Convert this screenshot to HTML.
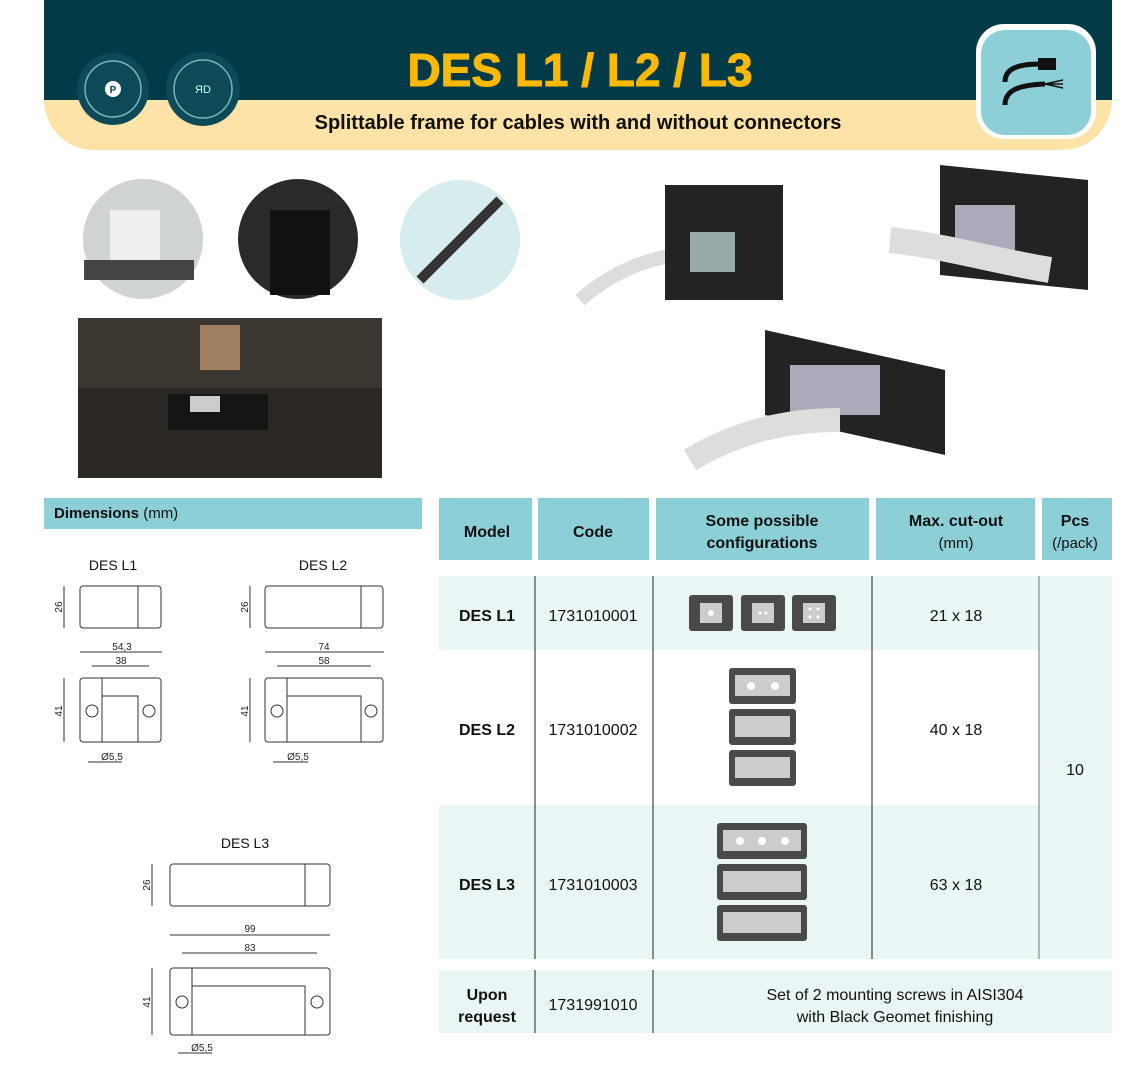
<!DOCTYPE html>
<html><head><meta charset="utf-8"><style>
body{margin:0;width:1148px;height:1087px;background:#fff;font-family:"Liberation Sans",sans-serif;overflow:hidden}
svg{position:absolute;left:0;top:0}
</style></head><body>
<svg width="1148" height="1087" viewBox="0 0 1148 1087" font-family="Liberation Sans, sans-serif">
<!-- header -->
<path d="M44 0H1112V100A50 50 0 0 1 1062 150H94A50 50 0 0 1 44 100Z" fill="#fde3a8"/>
<rect x="44" y="0" width="1068" height="100" fill="#033a48"/>
<circle cx="113" cy="89" r="36" fill="#0b4a56"/><circle cx="113" cy="89" r="28" fill="none" stroke="#7fb3bb" stroke-width="1.5"/>
<circle cx="113" cy="89" r="8" fill="#fff"/><text x="113" y="93" font-size="10" font-weight="bold" text-anchor="middle" fill="#033a48">P</text>
<circle cx="203" cy="89" r="37" fill="#0b4a56"/><circle cx="203" cy="89" r="29" fill="none" stroke="#7fb3bb" stroke-width="1.5"/>
<text x="203" y="93" font-size="11" text-anchor="middle" fill="#cfe">ЯD</text>
<text x="580" y="86" font-size="46" font-weight="bold" text-anchor="middle" fill="#fbb900" stroke="#fbb900" stroke-width="1">DES L1 / L2 / L3</text>
<text x="578" y="129" font-size="20" font-weight="bold" text-anchor="middle" fill="#111">Splittable frame for cables with and without connectors</text>
<rect x="976" y="24" width="120" height="115" rx="28" fill="#fff"/>
<rect x="981" y="30" width="110" height="105" rx="24" fill="#8ccfd6"/>
<path d="M1005 82C1005 70 1015 64 1040 64" stroke="#111" stroke-width="5" fill="none"/><rect x="1038" y="58" width="18" height="12" fill="#111"/>
<path d="M1005 105C1005 92 1015 85 1045 84" stroke="#111" stroke-width="5" fill="none"/><path d="M1045 84l18-4M1045 84l18 0M1045 84l18 4" stroke="#111" stroke-width="1.5"/>
<!-- photos -->
<circle cx="143" cy="239" r="60" fill="#cfd3d4"/><rect x="110" y="210" width="50" height="55" fill="#eee"/><rect x="84" y="260" width="110" height="20" fill="#444"/>
<circle cx="298" cy="239" r="60" fill="#2a2a2a"/><rect x="270" y="210" width="60" height="85" fill="#111"/>
<circle cx="460" cy="240" r="60" fill="#d6ecef"/><path d="M420 280L500 200" stroke="#333" stroke-width="10"/>
<rect x="78" y="318" width="304" height="160" fill="#2b2723"/><rect x="78" y="318" width="304" height="70" fill="#3b3630"/><rect x="200" y="325" width="40" height="45" fill="#a08060"/>
<rect x="168" y="394" width="100" height="36" fill="#151515"/><rect x="190" y="396" width="30" height="16" fill="#ccc"/>
<path d="M580 300C620 265 660 255 700 252" stroke="#ddd" stroke-width="14" fill="none"/>
<path d="M665 185H783V300H665Z" fill="#232323"/><rect x="690" y="232" width="45" height="40" fill="#9aa"/>
<path d="M940 165L1088 180V290L940 275Z" fill="#232323"/><rect x="955" y="205" width="60" height="50" fill="#aab"/><path d="M890 240C940 245 1000 262 1050 270" stroke="#ddd" stroke-width="26" fill="none"/>
<path d="M765 330L945 370V455L765 415Z" fill="#232323"/><rect x="790" y="365" width="90" height="50" fill="#aab"/><path d="M690 460C740 430 790 420 840 420" stroke="#ddd" stroke-width="24" fill="none"/>
<!-- dimensions -->
<rect x="44" y="498" width="378" height="31" fill="#8ccfd6"/>
<text x="54" y="518" font-size="15" fill="#111"><tspan font-weight="bold">Dimensions</tspan> (mm)</text>
<g font-size="14" fill="#111" text-anchor="middle"><text x="113" y="570">DES L1</text><text x="323" y="570">DES L2</text><text x="245" y="848">DES L3</text></g>
<g stroke="#333" stroke-width="1" fill="none">
<rect x="80" y="586" width="81" height="42" rx="3"/><line x1="64" y1="586" x2="64" y2="628"/><line x1="138" y1="586" x2="138" y2="628"/>
<rect x="80" y="678" width="81" height="64" rx="3"/><circle cx="92" cy="711" r="6"/><circle cx="149" cy="711" r="6"/><path d="M102 678V742M102 696H138V742"/>
<line x1="80" y1="652" x2="162" y2="652"/><line x1="92" y1="666" x2="149" y2="666"/><line x1="64" y1="678" x2="64" y2="742"/><line x1="88" y1="762" x2="122" y2="762"/>
<rect x="265" y="586" width="118" height="42" rx="3"/><line x1="250" y1="586" x2="250" y2="628"/><line x1="361" y1="586" x2="361" y2="628"/>
<rect x="265" y="678" width="118" height="64" rx="3"/><circle cx="277" cy="711" r="6"/><circle cx="371" cy="711" r="6"/><path d="M287 678V742M287 696H361V742"/>
<line x1="265" y1="652" x2="384" y2="652"/><line x1="277" y1="666" x2="371" y2="666"/><line x1="250" y1="678" x2="250" y2="742"/><line x1="273" y1="762" x2="308" y2="762"/>
<rect x="170" y="864" width="160" height="42" rx="3"/><line x1="152" y1="864" x2="152" y2="906"/><line x1="305" y1="864" x2="305" y2="906"/>
<rect x="170" y="968" width="160" height="67" rx="3"/><circle cx="182" cy="1002" r="6"/><circle cx="317" cy="1002" r="6"/><path d="M192 968V1035M192 986H305V1035"/>
<line x1="170" y1="935" x2="330" y2="935"/><line x1="182" y1="953" x2="317" y2="953"/><line x1="152" y1="968" x2="152" y2="1035"/><line x1="178" y1="1053" x2="212" y2="1053"/>
</g>
<g font-size="10" fill="#222" text-anchor="middle"><text x="122" y="650">54,3</text><text x="121" y="664">38</text><text x="324" y="650">74</text><text x="324" y="664">58</text><text x="250" y="932">99</text><text x="250" y="951">83</text>
<text x="112" y="760">Ø5,5</text><text x="298" y="760">Ø5,5</text><text x="202" y="1051">Ø5,5</text></g>
<g font-size="10" fill="#222" text-anchor="middle"><text transform="translate(62,607) rotate(-90)">26</text><text transform="translate(248,607) rotate(-90)">26</text><text transform="translate(150,885) rotate(-90)">26</text>
<text transform="translate(62,711) rotate(-90)">41</text><text transform="translate(248,711) rotate(-90)">41</text><text transform="translate(150,1002) rotate(-90)">41</text></g>
<!-- table -->
<g fill="#8ccfd6"><rect x="439" y="498" width="93" height="62"/><rect x="538" y="498" width="111" height="62"/><rect x="656" y="498" width="213" height="62"/><rect x="876" y="498" width="159" height="62"/><rect x="1042" y="498" width="70" height="62"/></g>
<g font-size="16" font-weight="bold" fill="#111" text-anchor="middle"><text x="487" y="537">Model</text><text x="593" y="537">Code</text><text x="762" y="526">Some possible</text><text x="762" y="548">configurations</text><text x="956" y="526">Max. cut-out</text><text x="1075" y="526">Pcs</text></g>
<g font-size="15" fill="#111" text-anchor="middle"><text x="956" y="548">(mm)</text><text x="1075" y="548">(/pack)</text></g>
<rect x="439" y="576" width="673" height="383" fill="#eaf5f6"/><rect x="439" y="650" width="600" height="155" fill="#fff"/>
<rect x="439" y="970" width="673" height="63" fill="#eaf5f6"/>
<g stroke="#222" stroke-width="1"><line x1="535" y1="576" x2="535" y2="959"/><line x1="653" y1="576" x2="653" y2="959"/><line x1="872" y1="576" x2="872" y2="959"/><line x1="1039" y1="576" x2="1039" y2="959" stroke="#777"/>
<line x1="535" y1="970" x2="535" y2="1033"/><line x1="653" y1="970" x2="653" y2="1033"/></g>
<g font-size="16" font-weight="bold" fill="#111" text-anchor="middle"><text x="487" y="621">DES L1</text><text x="487" y="735">DES L2</text><text x="487" y="890">DES L3</text><text x="487" y="1000">Upon</text><text x="487" y="1022">request</text></g>
<g font-size="16" fill="#111" text-anchor="middle"><text x="593" y="621">1731010001</text><text x="593" y="735">1731010002</text><text x="593" y="890">1731010003</text><text x="593" y="1010">1731991010</text>
<text x="956" y="621">21 x 18</text><text x="956" y="735">40 x 18</text><text x="956" y="890">63 x 18</text><text x="1075" y="775">10</text>
<text x="895" y="1000">Set of 2 mounting screws in AISI304</text><text x="895" y="1022">with Black Geomet finishing</text></g>
<g fill="#4a4a4a"><rect x="689" y="595" width="44" height="36" rx="3"/><rect x="741" y="595" width="44" height="36" rx="3"/><rect x="792" y="595" width="44" height="36" rx="3"/>
<rect x="729" y="668" width="67" height="36" rx="3"/><rect x="729" y="709" width="67" height="36" rx="3"/><rect x="729" y="750" width="67" height="36" rx="3"/>
<rect x="717" y="823" width="90" height="36" rx="3"/><rect x="717" y="864" width="90" height="36" rx="3"/><rect x="717" y="905" width="90" height="36" rx="3"/></g>
<g fill="#ccc"><rect x="700" y="603" width="22" height="20"/><rect x="752" y="603" width="22" height="20"/><rect x="803" y="603" width="22" height="20"/>
<rect x="735" y="675" width="55" height="21"/><rect x="735" y="716" width="55" height="21"/><rect x="735" y="757" width="55" height="21"/>
<rect x="723" y="830" width="78" height="21"/><rect x="723" y="871" width="78" height="21"/><rect x="723" y="912" width="78" height="21"/></g>
<g fill="#fff"><circle cx="711" cy="613" r="3"/><circle cx="751" cy="686" r="4"/><circle cx="775" cy="686" r="4"/><circle cx="740" cy="841" r="4"/><circle cx="762" cy="841" r="4"/><circle cx="785" cy="841" r="4"/>
<circle cx="760" cy="613" r="1.5"/><circle cx="766" cy="613" r="1.5"/><circle cx="810" cy="609" r="1.5"/><circle cx="818" cy="609" r="1.5"/><circle cx="810" cy="617" r="1.5"/><circle cx="818" cy="617" r="1.5"/></g>
</svg>
</body></html>
